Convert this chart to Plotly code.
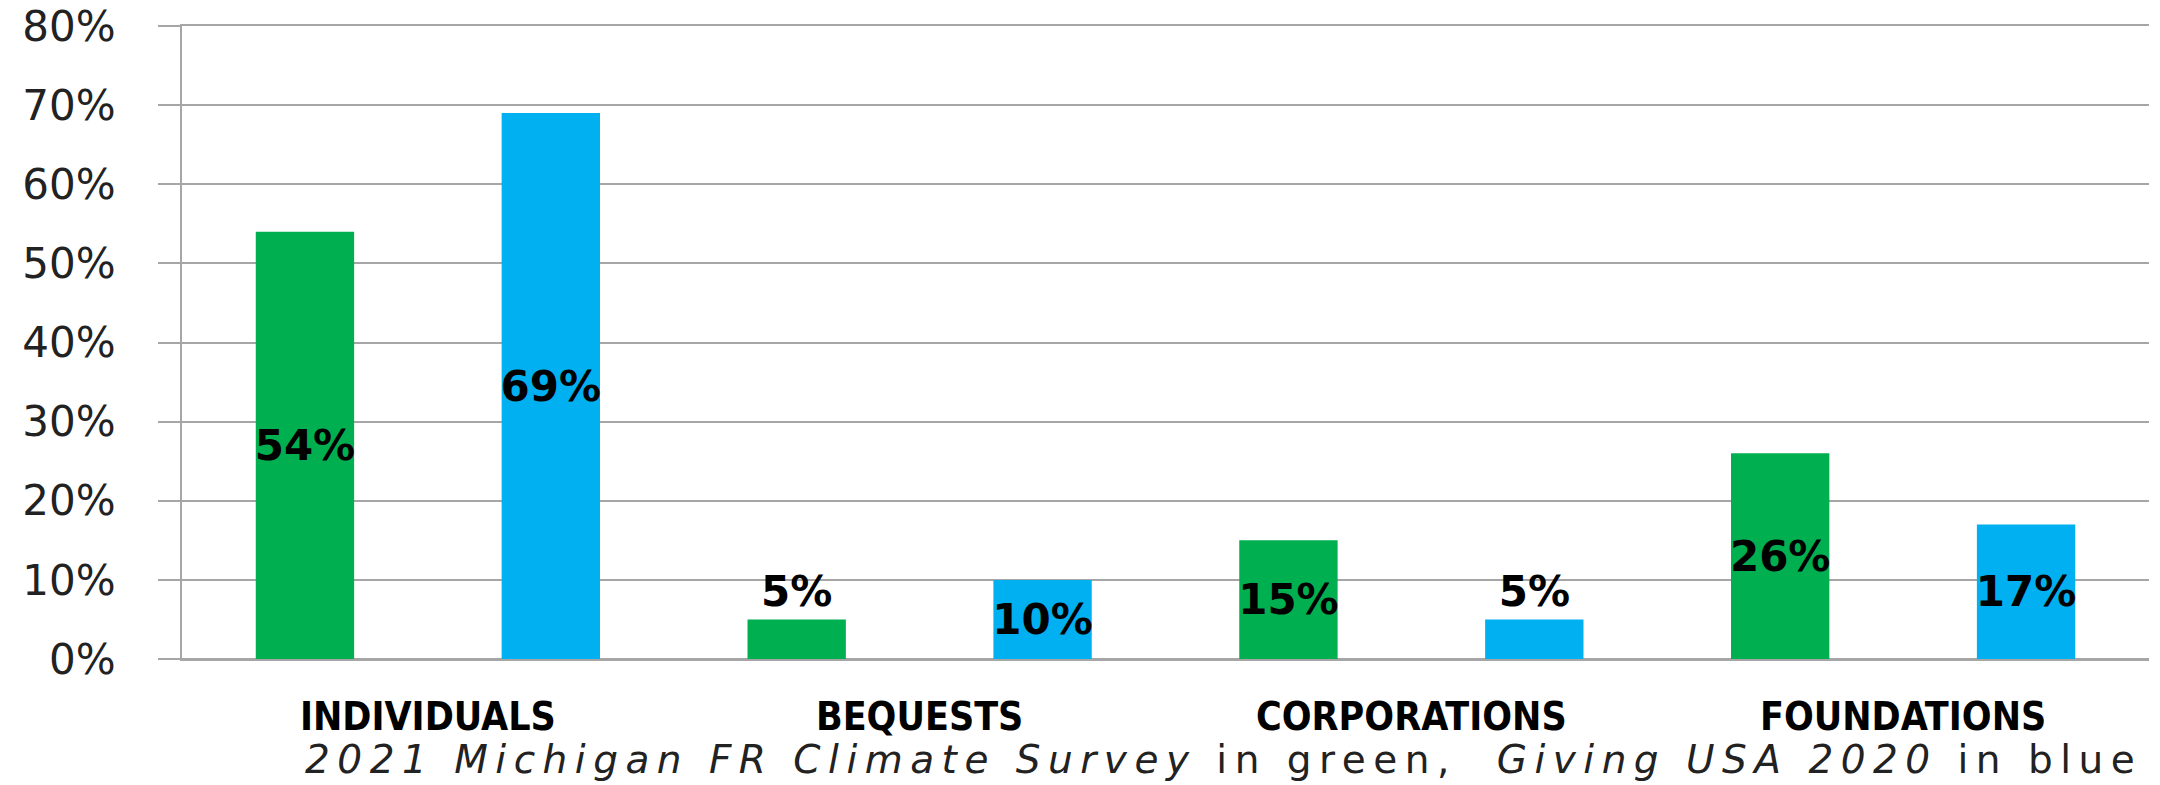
import plotly.graph_objects as go

categories = ["INDIVIDUALS", "BEQUESTS", "CORPORATIONS", "FOUNDATIONS"]
michigan_2021 = [0.54, 0.05, 0.15, 0.26]
giving_usa_2020 = [0.69, 0.10, 0.05, 0.17]
michigan_labels = ["54%", "5%", "15%", "26%"]
giving_labels = ["69%", "10%", "5%", "17%"]
y_ticks = [0, 0.1, 0.2, 0.3, 0.4, 0.5, 0.6, 0.7, 0.8]
y_tick_labels = ["0%", "10%", "20%", "30%", "40%", "50%", "60%", "70%", "80%"]
footnote = ('<span style="letter-spacing:7.5px">'
            "<i>2021 Michigan FR Climate Survey</i> in green,  "
            "<i>Giving USA 2020</i> in blue</span>")

GREEN = "#00B050"
BLUE = "#00B0F0"
GRID = "#A6A6A6"
LABEL_FONT = dict(family="DejaVu Sans", size=42, color="black", weight="bold")


def positions(vals):
    return ["outside" if v < 0.08 else "inside" for v in vals]


fig = go.Figure()
for vals, labels, color, name in [
    (michigan_2021, michigan_labels, GREEN, "2021 Michigan FR Climate Survey"),
    (giving_usa_2020, giving_labels, BLUE, "Giving USA 2020"),
]:
    fig.add_trace(go.Bar(
        x=categories, y=vals, name=name,
        marker=dict(color=color, line=dict(width=0)),
        text=labels, textposition=positions(vals), textangle=0,
        insidetextanchor="middle", constraintext="none",
        textfont=LABEL_FONT, insidetextfont=LABEL_FONT, outsidetextfont=LABEL_FONT,
        hoverinfo="skip", cliponaxis=False,
    ))

fig.update_layout(
    width=2160, height=785,
    margin=dict(l=182, r=11, t=26, b=126, pad=0),
    paper_bgcolor="white", plot_bgcolor="white",
    barmode="group", bargap=0.0, bargroupgap=0.6,
    showlegend=False,
    xaxis=dict(
        type="category", range=[-0.5, 3.5], automargin=False,
        showgrid=False, zeroline=False, ticks="",
        showline=True, mirror=True, linecolor=GRID, linewidth=2,
        tickfont=dict(family="DejaVu Sans Condensed, DejaVu Sans",
                      size=39, color="black", weight="bold"),
        ticklabelstandoff=22,
    ),
    yaxis=dict(
        range=[0, 0.8], tickvals=y_ticks, ticktext=y_tick_labels,
        automargin=False,
        showgrid=True, gridcolor=GRID, gridwidth=2,
        showline=True, linecolor=GRID, linewidth=2,
        zeroline=True, zerolinecolor=GRID, zerolinewidth=2,
        ticks="outside", ticklen=22, tickwidth=2, tickcolor=GRID,
        tickfont=dict(family="DejaVu Sans", size=42, color="#222222"),
        ticklabelstandoff=34,
    ),
    annotations=[dict(
        text=footnote, xref="paper", yref="paper", x=0.0615, y=-0.1975,
        xanchor="left", yanchor="bottom", showarrow=False,
        font=dict(family="DejaVu Sans", size=39, color="#222222"),
    )],
)

fig.write_html("out.html", config={"displayModeBar": False},
               post_script="document.body.style.margin='0';")
